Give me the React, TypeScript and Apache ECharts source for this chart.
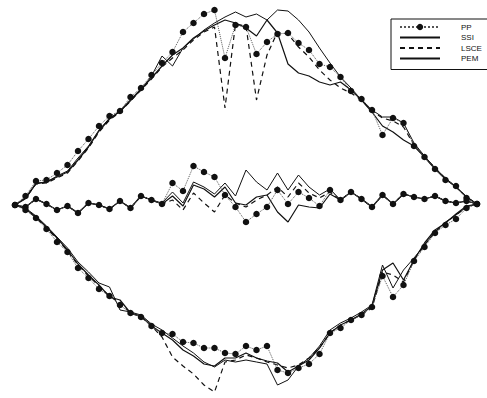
import React, { useEffect, useRef } from "react";
import * as echarts from "echarts";

// Displacement values (45 samples, index 0..44)
const upperPP = [0,9,24,25,32,40,54,66,79,89,94,108,117,130,142,153,173,182,191,195,147,180,178,151,163,171,172,162,155,141,138,128,114,106,95,70,87,82,59,48,36,25,19,7,1];
const upperSSI = [0,7,22,23,28,33,45,58,74,86,94,105,116,127,139,150,157,167,174,180,185,182,177,169,185,172,141,132,129,123,120,123,115,105,93,79,73,65,59,48,36,26,18,8,1];
const upperLSCE = [0,7,21,22,27,32,44,57,73,85,93,104,115,126,138,147,155,165,173,178,97,181,179,105,150,173,171,158,148,135,125,117,112,105,94,87,84,78,60,48,37,26,18,8,1];
const upperPEM = [0,6,21,23,29,34,47,59,75,87,93,104,115,129,149,139,157,166,175,182,188,193,188,191,185,195,194,185,173,157,142,128,117,105,95,88,88,82,62,49,37,27,18,8,1];

const middlePP = [0,-2,6,1,-5,-1,-8,2,0,-4,4,-3,9,5,1,22,14,39,33,28,10,-2,-17,-9,-2,15,1,13,7,-1,15,5,13,6,-2,10,1,11,8,6,9,4,2,4,1];
const middleSSI = [0,-2,6,1,-5,-1,-8,2,0,-4,4,-3,9,5,1,9,-1,20,16,8,18,2,0,8,10,-7,-17,0,-2,-3,11,5,13,6,-2,10,1,11,8,6,9,4,2,4,1];
const middleLSCE = [0,-2,6,1,-5,-1,-8,2,0,-4,4,-3,9,5,1,5,-5,12,2,-7,10,2,-2,5,10,18,8,22,12,7,13,5,13,6,-2,10,1,11,8,6,9,4,2,4,1];
const middlePEM = [0,-2,6,1,-5,-1,-8,2,0,-4,4,-3,9,5,2,13,2,23,18,11,22,9,35,23,15,32,15,30,18,10,16,5,13,6,-2,10,1,11,8,6,9,4,2,4,1];

const lowerPP = [0,-5,-13,-24,-37,-47,-63,-73,-84,-91,-100,-108,-112,-121,-128,-129,-137,-138,-143,-143,-148,-149,-141,-145,-141,-165,-168,-163,-159,-149,-128,-123,-115,-110,-102,-71,-92,-80,-56,-42,-28,-20,-14,-3,1];
const lowerSSI = [0,-4,-12,-22,-33,-45,-59,-70,-80,-92,-95,-108,-111,-121,-128,-135,-145,-151,-159,-161,-153,-153,-148,-153,-156,-158,-167,-161,-155,-143,-128,-120,-115,-109,-101,-65,-58,-75,-55,-38,-25,-18,-9,-1,1];
const lowerLSCE = [0,-4,-13,-23,-34,-46,-60,-71,-81,-91,-98,-108,-112,-121,-132,-152,-161,-169,-180,-187,-157,-155,-150,-153,-157,-160,-163,-160,-153,-143,-128,-120,-115,-110,-103,-67,-70,-77,-55,-40,-27,-18,-10,-2,1];
const lowerPEM = [0,-3,-11,-21,-32,-43,-57,-67,-78,-82,-105,-107,-110,-119,-125,-133,-141,-148,-157,-162,-155,-157,-155,-157,-159,-180,-175,-161,-153,-141,-125,-118,-113,-107,-100,-60,-83,-65,-53,-40,-27,-17,-10,-2,1];

const legendNames = ["PP", "SSI", "LSCE", "PEM"];

const seriesGroups: Record<string, number[][]> = {
  PP: [upperPP, middlePP, lowerPP],
  SSI: [upperSSI, middleSSI, lowerSSI],
  LSCE: [upperLSCE, middleLSCE, lowerLSCE],
  PEM: [upperPEM, middlePEM, lowerPEM],
};

const styles: Record<string, any> = {
  PP: {
    symbol: "circle",
    symbolSize: 6.5,
    itemStyle: { color: "#111" },
    lineStyle: { type: "dotted", width: 1, color: "#555" },
  },
  SSI: { symbol: "none", lineStyle: { type: "solid", width: 1.2, color: "#111" } },
  LSCE: { symbol: "none", lineStyle: { type: [5, 4], width: 1.2, color: "#111" } },
  PEM: { symbol: "none", lineStyle: { type: "solid", width: 1, color: "#111" } },
};

export default function App() {
  const ref = useRef<HTMLDivElement>(null);
  useEffect(() => {
    if (!ref.current) return;
    const chart = echarts.init(ref.current, undefined, { renderer: "svg" });
    const series: any[] = [];
    ["PEM", "LSCE", "SSI", "PP"].forEach((name) => {
      seriesGroups[name].forEach((arr) => {
        series.push({
          name,
          type: "line",
          data: arr.map((v, i) => [i, v]),
          itemStyle: { color: "#111" },
          ...styles[name],
          silent: true,
        });
      });
    });
    chart.setOption({
      animation: false,
      backgroundColor: "#fff",
      grid: { left: 15, right: 10, top: 0, bottom: 0 },
      xAxis: { type: "value", min: 0, max: 44, show: false },
      yAxis: { type: "value", min: -193, max: 205, show: false },
      legend: {
        data: legendNames.map((n) =>
          n === "PP" ? { name: n } : { name: n, itemStyle: { opacity: 0 } }
        ),
        orient: "vertical",
        left: 391,
        top: 19,
        padding: [4, 30, 7, 8],
        itemGap: 2.5,
        itemWidth: 40,
        itemHeight: 8,
        borderColor: "#111",
        borderWidth: 1,
        selectedMode: false,
        textStyle: {
          fontSize: 8,
          color: "#111",
          fontFamily: "Liberation Sans, Arial, sans-serif",
          padding: [0, 0, 0, 16],
        },
      },
      series,
    });
    return () => chart.dispose();
  }, []);
  return (
    <div
      ref={ref}
      style={{ position: "fixed", left: 0, top: 0, width: 487, height: 398, background: "#fff" }}
    />
  );
}
